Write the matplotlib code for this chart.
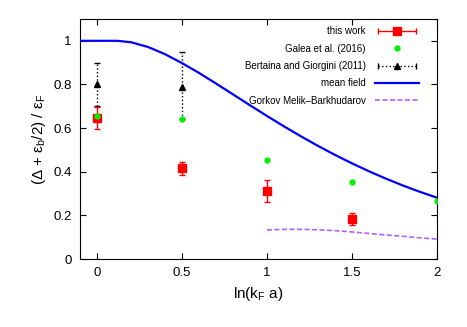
import matplotlib
matplotlib.use("Agg")
import matplotlib.pyplot as plt
from matplotlib.lines import Line2D
from matplotlib.legend_handler import HandlerLine2D, HandlerTuple

plt.rcParams['font.family'] = ['Liberation Sans', 'DejaVu Sans']
plt.rcParams['mathtext.fontset'] = 'custom'
plt.rcParams['mathtext.rm'] = 'Liberation Sans'
plt.rcParams['mathtext.it'] = 'Liberation Sans:italic'

# ---- data ----
work_x = [0.0, 0.5, 1.0, 1.5]
work_y = [0.645, 0.415, 0.31, 0.185]
work_err = [0.05, 0.03, 0.05, 0.028]

galea_x = [0.0, 0.5, 1.0, 1.5, 2.0]
galea_y = [0.655, 0.64, 0.455, 0.355, 0.265]

bert_x = [0.0, 0.5]
bert_y = [0.80, 0.79]
bert_lo = [0.10, 0.15]
bert_hi = [0.10, 0.16]

mf_x = [-0.1, 0.0, 0.1, 0.12, 0.2, 0.3, 0.4, 0.5, 0.6, 0.7, 0.8, 0.9, 1.0,
        1.1, 1.2, 1.3, 1.4, 1.5, 1.6, 1.7, 1.8, 1.9, 2.0]
mf_y = [1.0, 1.0, 1.0, 1.0, 0.9935, 0.9718, 0.9389, 0.898, 0.8528, 0.8043, 0.7546,
        0.7046, 0.6555, 0.6079, 0.5621, 0.5184, 0.4771, 0.4383, 0.402, 0.3682,
        0.3367, 0.3077, 0.281]

gmb_x = [1.0, 1.1, 1.2, 1.3, 1.4, 1.5, 1.6, 1.7, 1.8, 1.9, 2.0]
gmb_y = [0.133, 0.136, 0.136, 0.134, 0.130, 0.124, 0.117, 0.110, 0.104, 0.097, 0.091]

RED = '#ff0000'
GREEN = '#00ee00'
BLUE = '#0000ff'
PURPLE = '#b060ff'

fig = plt.figure(figsize=(4.67, 3.27), dpi=100)
ax = fig.add_axes([80 / 467, 1 - 259 / 327, 357 / 467, 240 / 327])

ax.errorbar(work_x, work_y, yerr=work_err, fmt='s', color=RED, ms=6,
            capsize=2.5, elinewidth=1, zorder=4)
ax.plot(galea_x, galea_y, 'o', color=GREEN, ms=3.5, zorder=5)
eb = ax.errorbar(bert_x, bert_y, yerr=[bert_lo, bert_hi], fmt='^', color='black', ms=4,
                 capsize=2, elinewidth=1, zorder=3)
eb[2][0].set_linestyle(':')
ax.plot(mf_x, mf_y, '-', color=BLUE, lw=1.6, zorder=2)
ax.plot(gmb_x, gmb_y, '--', color=PURPLE, lw=1.2, dashes=(3, 1.5), zorder=2)

ax.set_xlim(-0.1, 2.0)
ax.set_ylim(0, 1.1)
ax.set_xticks([0, 0.5, 1, 1.5, 2])
ax.set_xticklabels(['0', '0.5', '1', '1.5', '2'])
ax.set_yticks([0, 0.2, 0.4, 0.6, 0.8, 1])
ax.set_yticklabels(['0', '0.2', '0.4', '0.6', '0.8', '1'])
ax.tick_params(direction='in', top=True, right=True, length=4, labelsize=9.5, pad=6)

ax.set_xlabel(r'ln(k$_\mathrm{F}$ a)', fontsize=11)
ax.set_ylabel('(\u0394 + \u03b5$_\\mathrm{b}$/2) / \u03b5$_\\mathrm{F}$', fontsize=11)

# gnuplot-like legend keys: horizontal bar with end caps + marker
work_bar = Line2D([], [], color=RED, lw=1, marker='|', ms=5)
work_mk = Line2D([], [], color=RED, ls='none', marker='s', ms=6)
bert_bar = Line2D([], [], color='black', lw=1, ls=':', marker='|', ms=5)
bert_mk = Line2D([], [], color='black', ls='none', marker='^', ms=4)
galea_h = Line2D([], [], color=GREEN, ls='none', marker='o', ms=3.5)
mf_h = Line2D([], [], color=BLUE, lw=1.6)
gmb_h = Line2D([], [], color=PURPLE, lw=1.2, ls='--', dashes=(3, 1.5))

hmap = {work_bar: HandlerLine2D(numpoints=2), bert_bar: HandlerLine2D(numpoints=2),
        tuple: HandlerTuple(ndivide=1)}
ax.legend([(work_bar, work_mk), galea_h, (bert_bar, bert_mk), mf_h, gmb_h],
          ['this work', 'Galea et al. (2016)', 'Bertaina and Giorgini (2011)',
           'mean field', 'Gorkov Melik\u2013Barkhudarov'],
          handler_map=hmap, numpoints=1, loc='upper right',
          bbox_to_anchor=(0.961, 0.985), frameon=False,
          markerfirst=False, fontsize=7, handlelength=4.5, labelspacing=0.75,
          borderaxespad=0, handletextpad=1.0)

fig.savefig('out.png', dpi=100)
